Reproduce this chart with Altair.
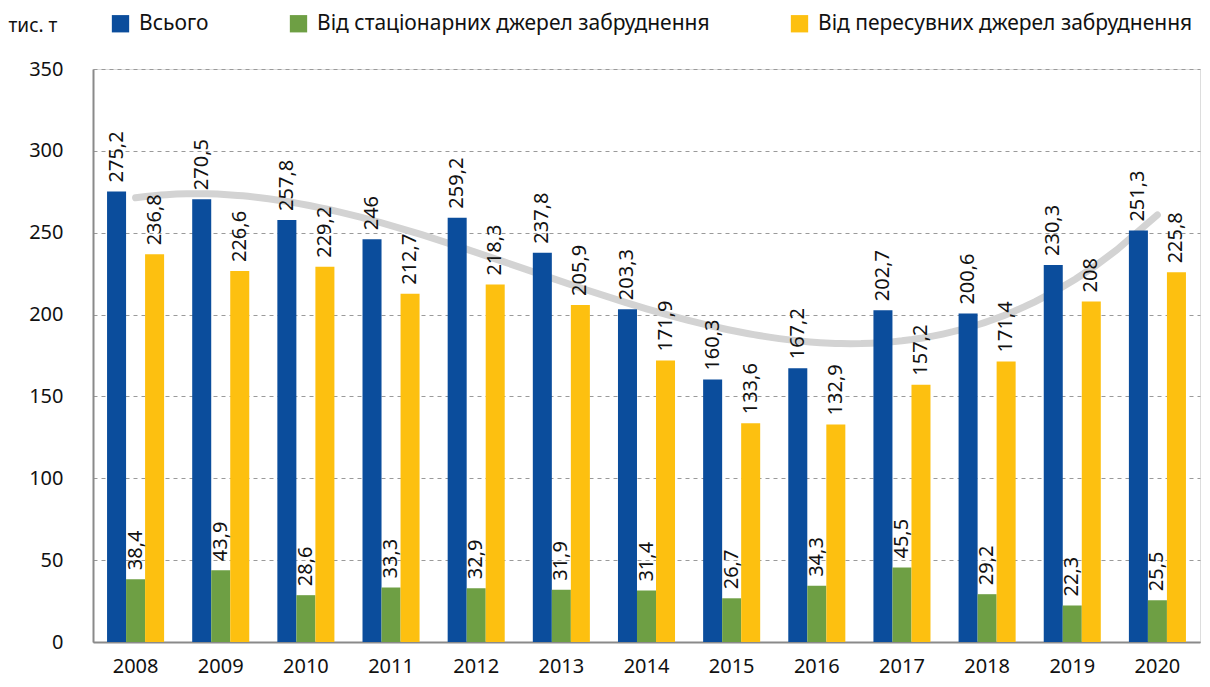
import altair as alt
import pandas as pd

years = [2008, 2009, 2010, 2011, 2012, 2013, 2014, 2015, 2016, 2017, 2018, 2019, 2020]
total = [275.2, 270.5, 257.8, 246.0, 259.2, 237.8, 203.3, 160.3, 167.2, 202.7, 200.6, 230.3, 251.3]
stationary = [38.4, 43.9, 28.6, 33.3, 32.9, 31.9, 31.4, 26.7, 34.3, 45.5, 29.2, 22.3, 25.5]
mobile = [236.8, 226.6, 229.2, 212.7, 218.3, 205.9, 171.9, 133.6, 132.9, 157.2, 171.4, 208.0, 225.8]
series = ["Всього", "Від стаціонарних джерел забруднення", "Від пересувних джерел забруднення"]
colors = ["#0B4D9C", "#6E9F44", "#FDC010"]

rows = []
for name, vals in zip(series, [total, stationary, mobile]):
    for y, v in zip(years, vals):
        rows.append({"year": str(y), "yr": y, "series": name, "value": v,
                     "label": f"{v:g}".replace(".", ",")})
df = pd.DataFrame(rows)
df_total = pd.DataFrame({"yr": years, "value": total})

FONT = "Noto Sans"
W, H = 1107, 573

yscale = alt.Scale(domain=[0, 350], nice=False)
bandscale = alt.Scale(paddingInner=0.33, paddingOuter=0.165)
xaxis = alt.Axis(labelAngle=0, labelFontSize=20, labelFont=FONT, labelColor="#111",
                 ticks=False, domainColor="#8a8a8a", domainWidth=2, labelPadding=14)
xband = alt.X("year:N", title=None, scale=bandscale, axis=xaxis)
yenc = alt.Y("value:Q", scale=yscale,
             axis=alt.Axis(values=[0, 50, 100, 150, 200, 250, 300, 350], title="тис. т",
                           titleAngle=0, titleAlign="left", titleBaseline="alphabetic",
                           titleX=-85, titleY=-38, titleFont=FONT, titleFontSize=19,
                           titleFontWeight="normal", titleColor="#111",
                           labelFontSize=20, labelFont=FONT, labelColor="#111", labelPadding=30,
                           ticks=False, domainColor="#8a8a8a", domainWidth=2,
                           grid=True, gridColor="#9a9a9a", gridDash=[4, 4], gridWidth=1))

base = alt.Chart(df)
bars = base.mark_bar().encode(
    x=xband,
    xOffset=alt.XOffset("series:N", sort=series, scale=alt.Scale(paddingInner=0)),
    y=yenc,
    color=alt.Color("series:N", sort=series,
                    scale=alt.Scale(domain=series, range=colors),
                    legend=alt.Legend(title=None, orient="none", direction="horizontal",
                                      legendX=17, legendY=-56, symbolType="square",
                                      symbolSize=300, symbolStrokeWidth=0, symbolOpacity=1,
                                      labelFont=FONT, labelFontSize=21, labelColor="#111",
                                      columnPadding=79, labelOffset=8, labelLimit=600)),
)
labels = base.mark_text(angle=270, align="left", baseline="middle", dx=9,
                        font=FONT, fontSize=20, color="#111").encode(
    x=xband,
    xOffset=alt.XOffset("series:N", sort=series, scale=alt.Scale(paddingInner=0)),
    y=alt.Y("value:Q", scale=yscale),
    text="label:N",
)
bar_layer = alt.layer(bars, labels).resolve_scale(x="shared").resolve_axis(x="shared")

trend = alt.Chart(df_total).transform_regression(
    "yr", "value", method="poly", order=3
).mark_line(color="#d3d3d3", strokeWidth=7, strokeCap="round").encode(
    x=alt.X("yr:Q", scale=alt.Scale(domain=[2007.5, 2020.5], nice=False, zero=False), axis=None),
    y=alt.Y("value:Q", scale=yscale),
)

chart = alt.layer(trend, bar_layer).resolve_scale(x="independent").properties(
    width=W, height=H,
    autosize=alt.AutoSizeParams(type="none"),
    padding={"left": 85, "top": 61, "right": 2, "bottom": 37},
).configure_view(stroke=None).configure(font=FONT)

chart.save("out.html", embed_options={"renderer": "svg", "actions": False})
